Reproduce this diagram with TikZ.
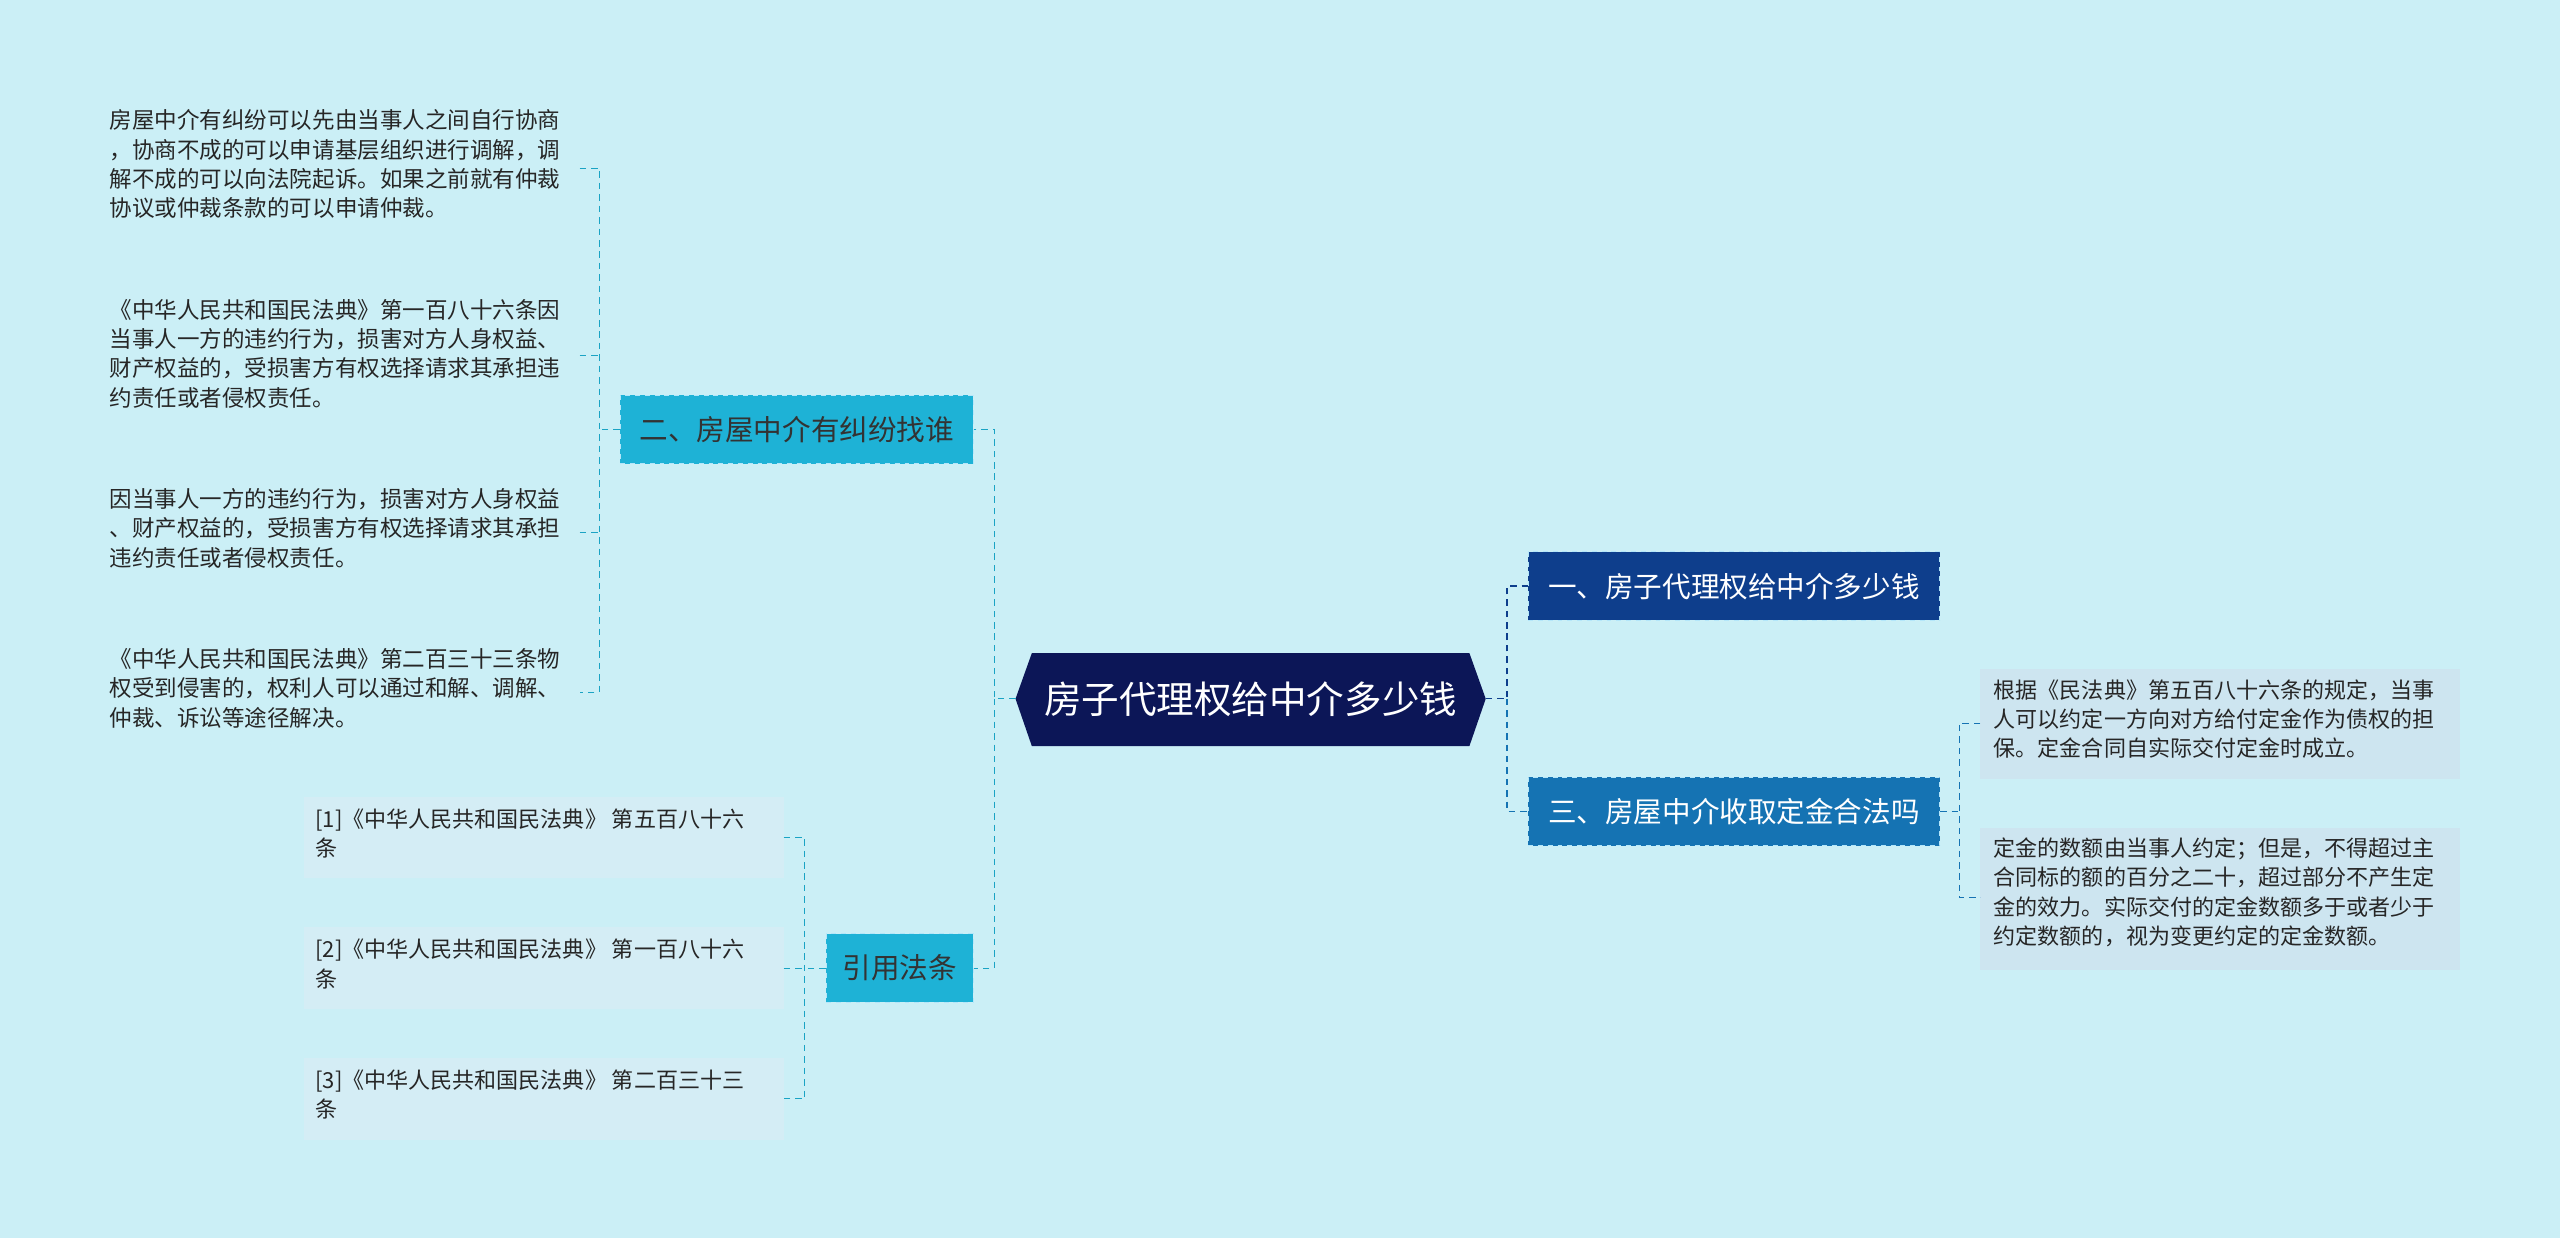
\documentclass[tikz,border=0pt]{standalone}
\usepackage{fontspec}
\setmainfont{Noto Sans CJK SC}
\begin{document}
\begin{tikzpicture}[x=1pt,y=-1pt,
 bigbox/.style={minimum height=42pt,inner sep=0pt,font=\fontsize{17.5}{20}\selectfont,draw=white!70!cyan,dashed,line width=0.6pt},
 leaf/.style={align=left,anchor=north west,inner sep=0pt,font=\fontsize{13.8}{18}\selectfont,text=black!85},
 lbox/.style={anchor=north west,inner sep=0pt,fill=#1},
 conn/.style={dashed,line width=0.8pt,dash pattern=on 4pt off 3pt}]
\definecolor{bg}{HTML}{CBEFF6}
\definecolor{navy}{HTML}{0C1657}
\definecolor{dblue}{HTML}{0E3E8C}
\definecolor{mblue}{HTML}{1573B3}
\definecolor{teal}{HTML}{1EB2D6}
\definecolor{lc}{HTML}{1AA3C4}
\definecolor{pale}{HTML}{CDE5F0}
\definecolor{pale2}{HTML}{D4EDF5}
\fill[bg] (0,0) rectangle (1568,758);
\useasboundingbox (0,0) rectangle (1568,758);
% root
\fill[navy] (622,428)--(632,400)--(900,400)--(910,428)--(900,457)--(632,457)--cycle;
\node[font=\fontsize{23}{25}\selectfont,text=white] (root) at (766,428) {房子代理权给中介多少钱};
\coordinate (rootL) at (622,428); \coordinate (rootR) at (910,428);
% level 1
\node[bigbox,fill=dblue,text=white,minimum width=252pt] (n1) at (1062,359) {一、房子代理权给中介多少钱};
\node[bigbox,fill=mblue,text=white,minimum width=252pt] (n3) at (1062,497) {三、房屋中介收取定金合法吗};
\node[bigbox,fill=teal,text=black!80,minimum width=216pt] (n2) at (488,263) {二、房屋中介有纠纷找谁};
\node[bigbox,fill=teal,text=black!80,minimum width=90pt] (n4) at (551,593) {引用法条};
% right connectors
\draw[conn,dblue] (rootR) -- (923,428) |- (n1.west);
\draw[conn,mblue] (923,428) |- (n3.west);
% left connectors
\draw[conn,lc] (rootL) -- (609,428) |- (n2.east);
\draw[conn,lc] (609,428) |- (n4.east);
% right leaves
\fill[pale] (1213,410) rectangle (1507,477);
\fill[pale] (1213,507) rectangle (1507,594);
\node[leaf,font=\fontsize{13.5}{18}\selectfont] (r1) at (1221,416) {根据《民法典》第五百八十六条的规定，当事\\人可以约定一方向对方给付定金作为债权的担\\保。定金合同自实际交付定金时成立。};
\node[leaf,font=\fontsize{13.5}{18}\selectfont] (r2) at (1221,513) {定金的数额由当事人约定；但是，不得超过主\\合同标的额的百分之二十，超过部分不产生定\\金的效力。实际交付的定金数额多于或者少于\\约定数额的，视为变更约定的定金数额。};
\draw[conn,mblue,line width=0.6pt] (n3.east) -- (1200,497);
\draw[conn,mblue,line width=0.6pt] (1213,443) -| (1200,550) -- (1213,550);
% left leaves of 二
\node[leaf] (l1) at (67,67) {房屋中介有纠纷可以先由当事人之间自行协商\\，协商不成的可以申请基层组织进行调解，调\\解不成的可以向法院起诉。如果之前就有仲裁\\协议或仲裁条款的可以申请仲裁。};
\node[leaf] (l2) at (67,183) {《中华人民共和国民法典》第一百八十六条因\\当事人一方的违约行为，损害对方人身权益、\\财产权益的，受损害方有权选择请求其承担违\\约责任或者侵权责任。};
\node[leaf] (l3) at (67,299) {因当事人一方的违约行为，损害对方人身权益\\、财产权益的，受损害方有权选择请求其承担\\违约责任或者侵权责任。};
\node[leaf] (l4) at (67,397) {《中华人民共和国民法典》第二百三十三条物\\权受到侵害的，权利人可以通过和解、调解、\\仲裁、诉讼等途径解决。};
\draw[conn,lc,line width=0.6pt] (n2.west) -- (367,263);
\draw[conn,lc,line width=0.6pt] (355,103) -| (367,424) -- (355,424);
\draw[conn,lc,line width=0.6pt] (355,218) -- (367,218);
\draw[conn,lc,line width=0.6pt] (355,326) -- (367,326);
% refs
\fill[pale2] (186,488) rectangle (480,538);
\fill[pale2] (186,568) rectangle (480,618);
\fill[pale2] (186,648) rectangle (480,698);
\node[leaf,font=\fontsize{13.5}{18}\selectfont] (f1) at (193,495) {[1]《中华人民共和国民法典》 第五百八十六\\条};
\node[leaf,font=\fontsize{13.5}{18}\selectfont] (f2) at (193,575) {[2]《中华人民共和国民法典》 第一百八十六\\条};
\node[leaf,font=\fontsize{13.5}{18}\selectfont] (f3) at (193,655) {[3]《中华人民共和国民法典》 第二百三十三\\条};
\draw[conn,lc,line width=0.6pt] (n4.west) -- (493,593);
\draw[conn,lc,line width=0.6pt] (480,513) -| (493,673) -- (480,673);
\draw[conn,lc,line width=0.6pt] (480,593) -- (493,593);
\end{tikzpicture}
\end{document}
